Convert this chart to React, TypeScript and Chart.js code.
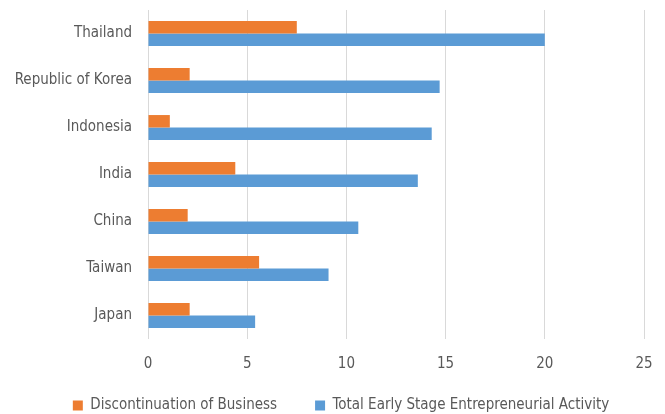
import React, { useEffect, useRef } from "react";
import { Chart, registerables } from "chart.js";

Chart.register(...registerables);

const categories = ["Thailand", "Republic of Korea", "Indonesia", "India", "China", "Taiwan", "Japan"];
const discontinuation = [7.5, 2.1, 1.1, 4.4, 2.0, 5.6, 2.1];
const totalEarlyStage = [20.0, 14.7, 14.3, 13.6, 10.6, 9.1, 5.4];
const xTicks = [0, 5, 10, 15, 20, 25];

const FONT = "'Liberation Sans Narrow', 'DejaVu Sans Condensed', 'Liberation Sans', sans-serif";
const FS = 15;
const LEGEND_PAD = 38;
const LEGEND_H = 25;

const legendFix = {
  id: "legendFix",
  afterInit(chart: any) {
    const lg = chart.legend;
    if (!lg) return;
    const orig = lg.fit.bind(lg);
    lg.fit = function () {
      orig();
      this.height = LEGEND_H;
    };
  },
  afterLayout(chart: any) {
    const lg = chart.legend;
    if (!lg) return;
    const itemTop = 398;
    lg.top = itemTop - LEGEND_PAD;
    lg.bottom = 414;
    lg.height = lg.bottom - lg.top;
    lg.left += 19;
    lg.right += 19;
  },
};

export default function App() {
  const ref = useRef<HTMLCanvasElement | null>(null);
  useEffect(() => {
    document.body.style.margin = "0";
    const ctx = ref.current!;
    const chart = new Chart(ctx, {
      type: "bar",
      data: {
        labels: categories,
        datasets: [
          {
            label: "Discontinuation of Business",
            data: discontinuation,
            backgroundColor: "#ED7D31",
            categoryPercentage: 0.53,
            barPercentage: 1.0,
          },
          {
            label: "Total Early Stage Entrepreneurial Activity",
            data: totalEarlyStage,
            backgroundColor: "#5B9BD5",
            categoryPercentage: 0.53,
            barPercentage: 1.0,
          },
        ],
      },
      options: {
        indexAxis: "y",
        animation: false,
        responsive: false,
        maintainAspectRatio: false,
        layout: { padding: { top: 10, right: 21, left: 0, bottom: 0 } },
        plugins: {
          legend: {
            position: "bottom",
            labels: {
              boxWidth: 10,
              boxHeight: 10,
              padding: LEGEND_PAD,
              color: "#595959",
              font: { family: FONT, size: FS },
            },
          },
          tooltip: { enabled: false },
        },
        scales: {
          x: {
            min: 0,
            max: 25,
            afterBuildTicks: (axis: any) => {
              axis.ticks = xTicks.map((v) => ({ value: v }));
            },
            afterFit: (axis: any) => {
              axis.paddingLeft = 0;
              axis.paddingRight = 0;
            },
            grid: { color: "#d9d9d9", drawTicks: false },
            border: { display: false },
            ticks: { color: "#595959", padding: 16, font: { family: FONT, size: FS } },
          },
          y: {
            afterFit: (axis: any) => {
              axis.width = 148;
              axis.paddingTop = 0;
              axis.paddingBottom = 0;
            },
            grid: { display: false },
            border: { display: false },
            ticks: { color: "#595959", padding: 8, font: { family: FONT, size: FS } },
          },
        },
      },
      plugins: [legendFix],
    });
    return () => chart.destroy();
  }, []);
  return (
    <div style={{ width: 665, height: 414 }}>
      <canvas ref={ref} width={665} height={414} />
    </div>
  );
}
